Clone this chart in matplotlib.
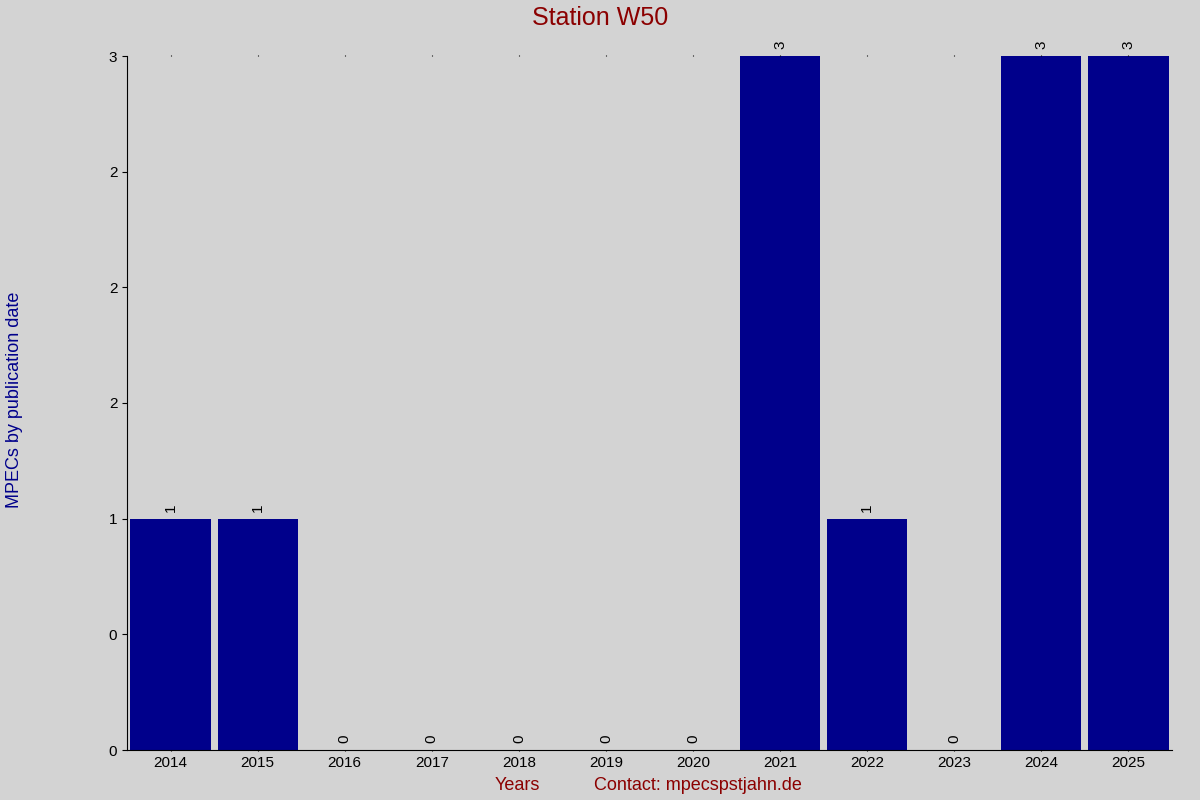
import matplotlib
matplotlib.use("Agg")
import matplotlib.pyplot as plt
from matplotlib.ticker import FormatStrFormatter

years = ["2014", "2015", "2016", "2017", "2018", "2019", "2020",
         "2021", "2022", "2023", "2024", "2025"]
counts = [1, 1, 0, 0, 0, 0, 0, 3, 1, 0, 3, 3]
yticks = [0, 0.5, 1, 1.5, 2, 2.5, 3]

plt.rcParams['font.family'] = ['Liberation Sans', 'DejaVu Sans']
bg = "#d3d3d3"
fig = plt.figure(figsize=(12, 8), dpi=100, facecolor=bg)
ax = fig.add_axes([127/1200, 50/800, (1172-127)/1200, (750-56)/800])
ax.set_facecolor(bg)

x = range(len(years))
ax.bar(x, counts, width=0.92, color="#00008b")
for i, c in zip(x, counts):
    ax.text(i, c + 0.03, str(c), rotation=90, ha="center", va="bottom", fontsize=11)

ax.set_xlim(-0.5, len(years) - 0.5)
ax.set_ylim(0, 3)
ax.set_xticks(list(x))
ax.set_xticklabels(years, fontsize=11)
ax.set_yticks(yticks)
ax.yaxis.set_major_formatter(FormatStrFormatter("%.0f"))
ax.tick_params(axis="y", labelsize=11)
ax.tick_params(top=True, direction="out")
ax.tick_params(axis="x", which="both", top=True, length=1)
for s in ("top", "right"):
    ax.spines[s].set_visible(False)

fig.text(0.5, 0.978, "Station W50", color="#8b0000", fontsize=18, ha="center", va="center")
fig.text(0.012, 0.5, "MPECs by publication date", color="#00008b", fontsize=13,
         rotation=90, ha="center", va="center")
fig.text(517/1200, 1 - 786/800, "Years", color="#8b0000", fontsize=13, ha="center", va="center")
fig.text(698/1200, 1 - 786/800, "Contact: mpecspstjahn.de", color="#8b0000", fontsize=13,
         ha="center", va="center")

fig.savefig("out.png", dpi=100, facecolor=bg)
